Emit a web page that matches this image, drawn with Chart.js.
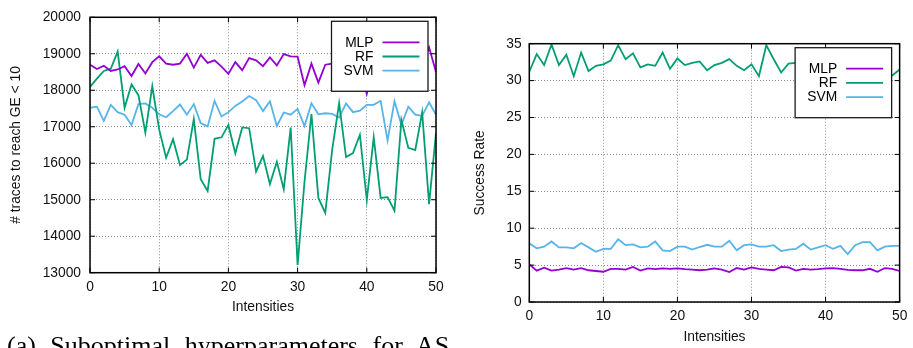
<!DOCTYPE html>
<html>
<head>
<meta charset="utf-8">
<script src="https://cdn.jsdelivr.net/npm/chart.js@4.4.1/dist/chart.umd.min.js"></script>
<style>
    html, body { margin: 0; padding: 0; background: #ffffff; overflow: hidden; }
    #page { position: relative; width: 913px; height: 348px; overflow: hidden; }
    #leftChart { position: absolute; left: 0; top: 0; }
    #rightChart { position: absolute; left: 460px; top: 0; }
    #caption {
        position: absolute; left: 7px; top: 332.7px; white-space: nowrap;
        font-family: "Liberation Serif", "DejaVu Serif", serif;
        font-size: 26px; line-height: 26px; word-spacing: 8px; color: #000;
    }
</style>
</head>
<body>
<div id="page">
    <canvas id="leftChart" width="460" height="348"></canvas>
    <canvas id="rightChart" width="453" height="348"></canvas>
    <div id="caption">(a) Suboptimal hyperparameters for AS</div>
</div>
<script>
// Data
const intensities = [0, 1, 2, 3, 4, 5, 6, 7, 8, 9, 10, 11, 12, 13, 14, 15, 16, 17, 18, 19, 20,
    21, 22, 23, 24, 25, 26, 27, 28, 29, 30, 31, 32, 33, 34, 35, 36, 37, 38, 39, 40,
    41, 42, 43, 44, 45, 46, 47, 48, 49, 50];

const seriesNames = ['MLP', 'RF', 'SVM'];

// left plot: # traces to reach GE < 10
const mlpTraces = [18700, 18580, 18670, 18530, 18570, 18660, 18390, 18720, 18460, 18770,
    18930, 18730, 18700, 18730, 19000, 18620, 18970, 18750, 18820, 18650,
    18450, 18770, 18550, 18880, 18820, 18660, 18900, 18680, 18990, 18930,
    18920, 18140, 18730, 18210, 18700, 18730, 18750, 18650, 18800, 18600,
    17900, 18700, 18850, 18600, 18750, 18900, 18650, 18800, 18700, 19180, 18500];
const rfTraces = [18090, 18320, 18530, 18590, 19060, 17520, 18160, 17865, 16840, 18110,
    16920, 16150, 16660, 15950, 16100, 17210, 15560, 15240, 16670, 16710,
    17050, 16270, 16980, 16960, 15770, 16200, 15430, 16040, 15290, 16980,
    13210, 15500, 17350, 15050, 14640, 16370, 17640, 16170, 16280, 16780,
    14990, 16710, 15050, 15070, 14700, 17190, 16420, 16360, 17390, 14880, 16830];
const svmTraces = [17520, 17550, 17160, 17600, 17400, 17330, 17050, 17620, 17640, 17520,
    17340, 17260, 17430, 17610, 17330, 17620, 17100, 17010, 17710, 17280,
    17400, 17570, 17690, 17840, 17730, 17430, 17700, 17020, 17390, 17330,
    17490, 17020, 17640, 17340, 17370, 17350, 17250, 17640, 17400, 17440,
    17600, 17600, 17710, 16620, 17700, 17050, 17550, 17330, 17300, 17670, 17330];

// right plot: success rate
const mlpSuccess = [5.1, 4.25, 4.65, 4.25, 4.4, 4.6, 4.4, 4.6, 4.3, 4.2,
    4.1, 4.5, 4.5, 4.4, 4.75, 4.25, 4.55, 4.45, 4.55, 4.5,
    4.55, 4.45, 4.4, 4.3, 4.4, 4.55, 4.4, 4.05, 4.6, 4.4,
    4.7, 4.5, 4.4, 4.3, 4.75, 4.7, 4.25, 4.5, 4.4, 4.45,
    4.55, 4.6, 4.5, 4.35, 4.3, 4.3, 4.5, 4.1, 4.6, 4.5, 4.2];
const rfSuccess = [31.2, 33.6, 32.1, 34.9, 32.1, 33.5, 30.6, 33.8, 31.3, 32.0,
    32.2, 32.7, 34.8, 32.9, 33.7, 31.8, 32.2, 32.0, 33.8, 31.6,
    33.0, 32.1, 32.4, 32.6, 31.4, 32.1, 32.4, 32.9, 32.0, 31.4,
    32.2, 30.6, 34.8, 32.9, 31.1, 32.3, 32.4, 32.5, 33.1, 31.8,
    32.6, 33.4, 31.9, 32.2, 33.0, 31.6, 32.4, 32.8, 31.2, 30.7, 31.5];
const svmSuccess = [7.95, 7.27, 7.5, 8.2, 7.4, 7.4, 7.27, 8.0, 7.4, 6.8,
    7.2, 7.2, 8.5, 7.7, 7.8, 7.4, 7.5, 8.2, 7.0, 6.9,
    7.5, 7.5, 7.1, 7.45, 7.75, 7.5, 7.5, 8.3, 7.0, 7.7,
    7.8, 7.5, 7.5, 7.7, 6.9, 7.1, 7.2, 7.9, 7.1, 7.4,
    7.7, 7.2, 7.6, 6.5, 7.7, 8.1, 8.1, 7.0, 7.5, 7.6, 7.6];

// gnuplot default line colours
const seriesColors = ['#9400d3', '#009e73', '#56b4e9'];

const FONT = '"Liberation Sans", Arial, sans-serif';
const FONT_SIZE = 13.8;

// Frame, inward tick marks and an opaque key box, gnuplot style
const gnuplotFrame = {
    id: 'gnuplotFrame',
    afterDatasetsDraw(chart) {
        const { ctx, chartArea: a, scales: { x, y } } = chart;
        ctx.save();

        // small inward ticks on all four sides
        ctx.strokeStyle = '#000';
        ctx.lineWidth = 1;
        ctx.beginPath();
        x.ticks.forEach(t => {
            const px = x.getPixelForValue(t.value);
            ctx.moveTo(px, a.bottom); ctx.lineTo(px, a.bottom - 5);
            ctx.moveTo(px, a.top); ctx.lineTo(px, a.top + 5);
        });
        y.ticks.forEach(t => {
            const py = y.getPixelForValue(t.value);
            ctx.moveTo(a.left, py); ctx.lineTo(a.left + 5, py);
            ctx.moveTo(a.right, py); ctx.lineTo(a.right - 5, py);
        });
        ctx.stroke();

        // key box
        const w = 96.5, h = 70;
        const bx = a.right - 8 - w, by = a.top + 4;
        ctx.fillStyle = '#ffffff';
        ctx.fillRect(bx, by, w, h);
        ctx.strokeStyle = '#1a1a1a';
        ctx.lineWidth = 1.3;
        ctx.strokeRect(bx, by, w, h);

        ctx.font = `${FONT_SIZE}px ${FONT}`;
        ctx.textAlign = 'right';
        ctx.textBaseline = 'middle';
        chart.data.datasets.forEach((ds, i) => {
            const ry = by + 21 + i * 14.2;
            ctx.fillStyle = '#000';
            ctx.fillText(ds.label, bx + 42, ry + 0.5);
            ctx.strokeStyle = ds.borderColor;
            ctx.lineWidth = 1.8;
            ctx.beginPath();
            ctx.moveTo(bx + 51, ry);
            ctx.lineTo(bx + 88, ry);
            ctx.stroke();
        });

        // plot border
        ctx.strokeStyle = '#000';
        ctx.lineWidth = 1.5;
        ctx.strokeRect(a.left, a.top, a.width, a.height);
        ctx.restore();
    }
};

function createGnuplotChart(canvasId, series, yRange, yTitle, box) {
    const ctx = document.getElementById(canvasId);
    if (!ctx) return null;

    return new Chart(ctx, {
        type: 'line',
        data: {
            labels: intensities,
            datasets: series.map((values, i) => ({
                label: seriesNames[i],
                data: values,
                borderColor: seriesColors[i],
                borderWidth: 1.8,
                pointRadius: 0,
                tension: 0,
                fill: false
            }))
        },
        options: {
            responsive: false,
            animation: false,
            events: [],
            layout: {
                padding: { left: 0, top: box.top, right: box.right, bottom: 0 }
            },
            plugins: {
                legend: { display: false },
                tooltip: { enabled: false }
            },
            scales: {
                x: {
                    type: 'linear',
                    min: 0,
                    max: 50,
                    afterFit: (scale) => { scale.height = box.xHeight; },
                    ticks: {
                        stepSize: 10,
                        color: '#111',
                        padding: box.xTickPad,
                        font: { family: FONT, size: FONT_SIZE },
                        callback: (value) => String(value)
                    },
                    grid: {
                        color: '#8a8a8a',
                        lineWidth: 1,
                        drawTicks: false
                    },
                    border: { display: false, dash: [1, 2] },
                    title: {
                        display: true,
                        text: 'Intensities',
                        color: '#111',
                        font: { family: FONT, size: FONT_SIZE },
                        padding: { top: 0, bottom: box.xTitlePad }
                    }
                },
                y: {
                    min: yRange.min,
                    max: yRange.max,
                    afterFit: (scale) => { scale.width = box.yWidth; },
                    ticks: {
                        stepSize: yRange.step,
                        color: '#111',
                        padding: box.yTickPad,
                        font: { family: FONT, size: FONT_SIZE },
                        callback: (value) => String(value)
                    },
                    grid: {
                        color: '#8a8a8a',
                        lineWidth: 1,
                        drawTicks: false
                    },
                    border: { display: false, dash: [1, 2] },
                    title: {
                        display: true,
                        text: yTitle,
                        color: '#111',
                        font: { family: FONT, size: FONT_SIZE },
                        padding: { top: box.yTitlePad, bottom: 0 }
                    }
                }
            }
        },
        plugins: [gnuplotFrame]
    });
}

createGnuplotChart('leftChart', [mlpTraces, rfTraces, svmTraces],
    { min: 13000, max: 20000, step: 1000 }, '# traces to reach GE < 10',
    { top: 14.7, right: 24, yWidth: 90, xHeight: 75.3, xTickPad: 6.5, xTitlePad: 32.7, yTickPad: 9, yTitlePad: 7.7 });

createGnuplotChart('rightChart', [mlpSuccess, rfSuccess, svmSuccess],
    { min: 0, max: 35, step: 5 }, 'Success Rate',
    { top: 43.7, right: 12.3, yWidth: 69.3, xHeight: 46, xTickPad: 5.7, xTitlePad: 2.4, yTickPad: 7.6, yTitlePad: 12.4 });
</script>
</body>
</html>
